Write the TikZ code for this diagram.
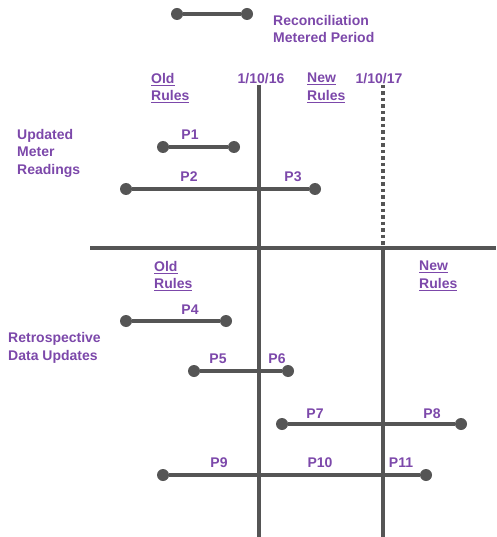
\documentclass[tikz,border=0pt]{standalone}
\usepackage{fontspec}
\setmainfont{Liberation Sans}
\definecolor{tl}{HTML}{555555}
\definecolor{pur}{HTML}{7C48AA}
\tikzset{
  dot/.style={circle,fill=tl,inner sep=0pt,minimum size=12pt},
  seg/.style={draw=tl,line width=3.8pt},
  axis/.style={draw=tl,line width=3.4pt},
  dotaxis/.style={draw=tl,line width=3.6pt,dash pattern=on 3.5pt off 3pt},
  lbl/.style={text=pur,font=\fontsize{14}{17.5}\selectfont\bfseries,inner sep=0pt,align=left},
}
\begin{document}
\begin{tikzpicture}[x=1pt,y=-1pt]
\useasboundingbox (0,0) rectangle (496,537);
% axes
\coordinate (v1t) at (259,85); \coordinate (v1b) at (259,537);
\coordinate (v2t) at (383,85); \coordinate (v2m) at (383,248); \coordinate (v2b) at (383,537);
\coordinate (hl) at (90,248); \coordinate (hr) at (496,248);
\draw[axis] (v1t) -- (v1b);
\draw[dotaxis] (v2t) -- (v2m);
\draw[axis] (v2m) -- (v2b);
\draw[axis] (hl) -- (hr);
% legend
\node[dot] (la) at (177,14) {};
\node[dot] (lb) at (247,14) {};
\draw[seg] (la) -- (lb);
\node[lbl,anchor=west] (leg) at (273,29) {Reconciliation\\Metered Period};
% headers
\node[lbl,anchor=west] (old1) at (151,88) {\underline{Old}\\\underline{Rules}};
\node[lbl] (d16) at (261,79) {1/10/16};
\node[lbl,anchor=west] (new1) at (307,88) {\underline{New}\\\underline{Rules}};
\node[lbl] (d17) at (379,79) {1/10/17};
\node[lbl,anchor=west] (umr) at (17,153) {Updated\\Meter\\Readings};
% P1
\node[dot] (p1a) at (163,147) {};
\node[dot] (p1b) at (234,147) {};
\draw[seg] (p1a) -- (p1b);
\node[lbl] (p1) at (190,135) {P1};
% P2 P3
\node[dot] (p2a) at (126,189) {};
\node[dot] (p2b) at (315,189) {};
\draw[seg] (p2a) -- (p2b);
\node[lbl] (p2) at (189,177) {P2};
\node[lbl] (p3) at (293,177) {P3};
% lower headers
\node[lbl,anchor=west] (old2) at (154,276) {\underline{Old}\\\underline{Rules}};
\node[lbl,anchor=west] (new2) at (419,276) {\underline{New}\\\underline{Rules}};
\node[lbl,anchor=west] (rdu) at (8,348) {Retrospective\\Data Updates};
% P4
\node[dot] (p4a) at (126,321) {};
\node[dot] (p4b) at (226,321) {};
\draw[seg] (p4a) -- (p4b);
\node[lbl] (p4) at (190,310) {P4};
% P5 P6
\node[dot] (p5a) at (194,371) {};
\node[dot] (p5b) at (288,371) {};
\draw[seg] (p5a) -- (p5b);
\node[lbl] (p5) at (218,359) {P5};
\node[lbl] (p6) at (277,359) {P6};
% P7 P8
\node[dot] (p7a) at (282,424) {};
\node[dot] (p7b) at (461,424) {};
\draw[seg] (p7a) -- (p7b);
\node[lbl] (p7) at (315,414) {P7};
\node[lbl] (p8) at (432,414) {P8};
% P9 P10 P11
\node[dot] (p9a) at (163,475) {};
\node[dot] (p9b) at (426,475) {};
\draw[seg] (p9a) -- (p9b);
\node[lbl] (p9) at (219,463) {P9};
\node[lbl] (p10) at (320,463) {P10};
\node[lbl] (p11) at (401,463) {P11};
\end{tikzpicture}
\end{document}
